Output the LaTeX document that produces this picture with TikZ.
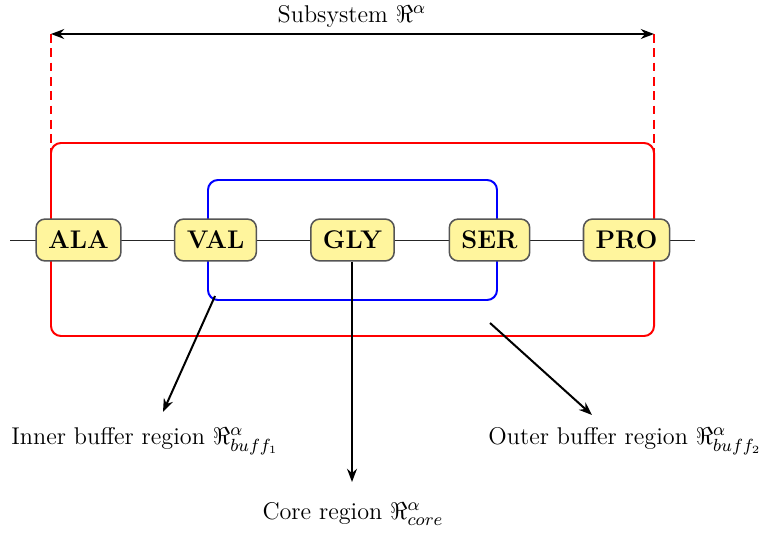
\documentclass[tikz,border=0pt]{standalone}
\usetikzlibrary{arrows.meta}
\definecolor{resfill}{RGB}{255,245,157}
\definecolor{resdraw}{RGB}{85,85,85}
\begin{document}
\begin{tikzpicture}[x=0.4545pt,y=-0.4545pt,
  every node/.style={font=\fontsize{11}{13.5}\selectfont},
  residue/.style={draw=resdraw,fill=resfill,line width=0.7pt,rounded corners=4pt,
    minimum height=19pt,inner xsep=5.5pt,font=\fontsize{11.6}{14}\selectfont\bfseries},
  chain/.style={draw=black!85,line width=0.45pt},
  outerbox/.style={draw=red,line width=0.9pt,rounded corners=4.5pt},
  innerbox/.style={draw=blue,line width=0.9pt,rounded corners=4.5pt},
  boundary/.style={draw=red,line width=1.2pt,dash pattern=on 4pt off 2.5pt},
  pointer/.style={draw=black,line width=0.91pt,-{Stealth[length=6pt,width=4.5pt]}},
  span/.style={draw=black,line width=0.91pt,{Stealth[length=6pt,width=4.5pt]}-{Stealth[length=6pt,width=4.5pt]}}]
\useasboundingbox (0,0) rectangle (765,533);

% backbone
\coordinate (chainL) at (10,240);
\coordinate (chainR) at (695,240);
\draw[chain] (chainL) -- (chainR);

% regions
\draw[outerbox] (51,143) rectangle (654,336);
\draw[innerbox] (208,180) rectangle (497,300);

% subsystem extent
\coordinate (bl) at (51,34);
\coordinate (br) at (654,34);
\coordinate (blend) at (51,185);
\coordinate (brend) at (654,185);
\draw[boundary] (bl) -- (blend);
\draw[boundary] (br) -- (brend);
\draw[span] (bl) -- (br);
\node[inner sep=0pt] (sub) at (352,16) {Subsystem $\Re^{\alpha}$};

% residues
\node[residue] (ala) at (78.5,240) {ALA};
\node[residue] (val) at (215.5,240) {VAL};
\node[residue] (gly) at (352.5,240) {GLY};
\node[residue] (ser) at (489.5,240) {SER};
\node[residue] (pro) at (626.5,240) {PRO};

% labels
\node[anchor=west,inner sep=0pt] (inner) at (11,441) {Inner buffer region $\Re^{\alpha}_{buff_1}$};
\node[inner sep=0pt] (core) at (353,514) {Core region $\Re^{\alpha}_{core}$};
\node[anchor=west,inner sep=0pt] (outer) at (488,441) {Outer buffer region $\Re^{\alpha}_{buff_2}$};

% pointers
\coordinate (ia) at (215,296);
\coordinate (ib) at (163,412);
\coordinate (ca) at (352,482);
\coordinate (oa) at (490,323);
\coordinate (ob) at (592,415);
\draw[pointer] (ia) -- (ib);
\draw[pointer] (gly.south -| ca) -- (ca);
\draw[pointer] (oa) -- (ob);
\end{tikzpicture}
\end{document}
